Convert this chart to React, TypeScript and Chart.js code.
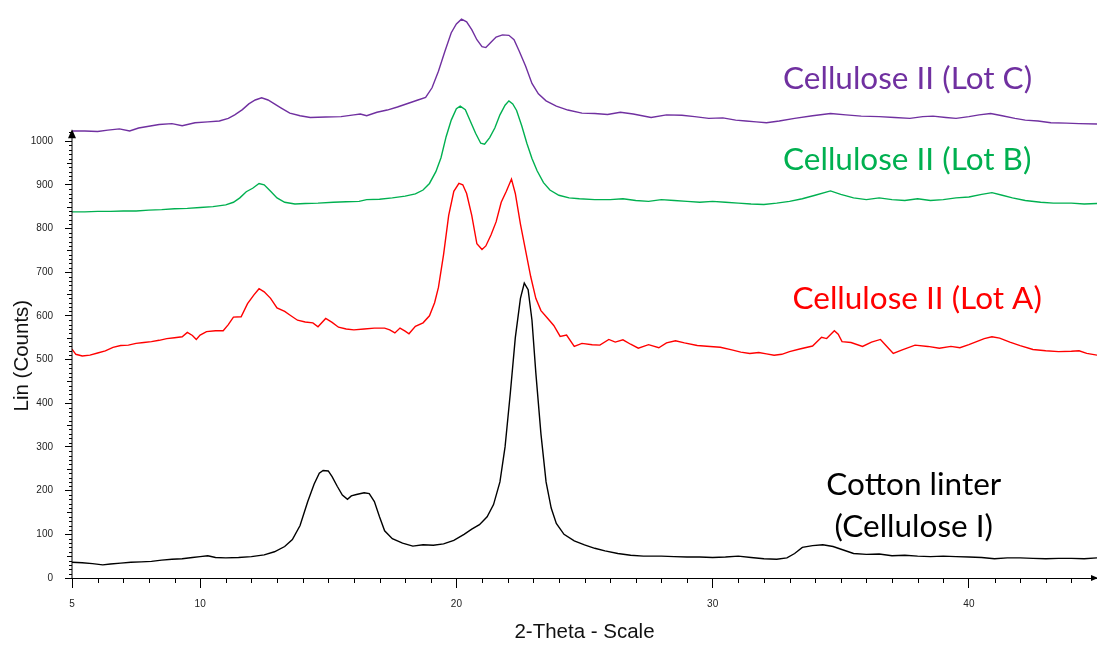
import { useEffect, useRef } from "react";
import { Chart, registerables } from "chart.js";

Chart.register(...registerables);

// ---------- axes ----------
const thetaMin = 5;
const thetaMax = 45;
const countMin = 0;
const countMax = 1300;
const yAxisTopValue = 1027;
const xTickValues = [5, 10, 20, 30, 40];
const yTickValues = [0, 100, 200, 300, 400, 500, 600, 700, 800, 900, 1000];
const xTitle = "2-Theta - Scale";
const yTitle = "Lin (Counts)";

// ---------- series (2-theta, counts) ----------
const cottonLinter: [number, number][] = [
  [5.0, 36], [5.4, 35], [5.8, 33], [6.2, 30], [6.5, 32], [6.9, 34], [7.3, 36], [7.7, 37], [8.1, 38], [8.5, 41],
  [8.9, 43], [9.3, 44], [9.7, 47], [10.0, 49], [10.3, 51], [10.6, 47], [11.0, 46], [11.5, 47], [12.0, 49], [12.5, 53],
  [12.9, 60], [13.3, 72], [13.6, 88], [13.9, 120], [14.2, 175], [14.45, 215], [14.65, 240], [14.8, 246], [15.0, 245], [15.15, 232],
  [15.35, 210], [15.55, 190], [15.75, 180], [15.9, 188], [16.1, 191], [16.4, 195], [16.6, 193], [16.8, 175], [17.0, 140], [17.2, 108],
  [17.5, 90], [17.9, 80], [18.3, 73], [18.7, 76], [19.1, 75], [19.5, 78], [19.9, 86], [20.3, 100], [20.6, 112], [20.9, 122],
  [21.2, 140], [21.45, 168], [21.7, 220], [21.9, 300], [22.1, 420], [22.3, 550], [22.5, 640], [22.65, 675], [22.8, 660], [22.95, 590],
  [23.1, 470], [23.3, 330], [23.5, 220], [23.7, 160], [23.9, 125], [24.2, 100], [24.6, 85], [25.0, 76], [25.4, 68], [25.8, 62],
  [26.3, 56], [26.8, 52], [27.3, 50], [28.0, 50], [28.5, 49], [29.0, 48], [29.5, 48], [30.0, 47], [30.5, 48], [31.0, 50],
  [31.5, 47], [32.0, 44], [32.5, 43], [32.9, 46], [33.2, 56], [33.5, 70], [33.9, 74], [34.3, 76], [34.7, 72], [35.1, 64],
  [35.5, 56], [36.0, 54], [36.5, 55], [37.0, 51], [37.5, 52], [38.0, 50], [38.5, 49], [39.0, 50], [39.5, 49], [40.0, 48],
  [40.5, 47], [41.0, 44], [41.5, 46], [42.0, 46], [42.5, 45], [43.0, 44], [43.5, 45], [44.0, 45], [44.5, 44], [45.0, 46],
];

const celluloseLotA: [number, number][] = [
  [5.0, 524], [5.15, 512], [5.4, 508], [5.7, 510], [6.0, 515], [6.3, 520], [6.6, 528], [6.9, 532], [7.2, 533], [7.5, 537],
  [7.8, 539], [8.1, 541], [8.4, 544], [8.7, 548], [9.0, 550], [9.3, 552], [9.5, 562], [9.7, 555], [9.85, 546], [10.0, 556],
  [10.25, 564], [10.6, 566], [10.9, 566], [11.1, 580], [11.3, 597], [11.6, 598], [11.85, 628], [12.1, 648], [12.3, 662], [12.5, 655],
  [12.75, 640], [13.0, 618], [13.3, 610], [13.5, 602], [13.8, 590], [14.1, 586], [14.4, 584], [14.6, 575], [14.9, 594], [15.15, 585],
  [15.4, 574], [15.7, 570], [16.0, 568], [16.4, 570], [16.8, 572], [17.2, 572], [17.4, 568], [17.6, 561], [17.8, 572], [18.0, 565],
  [18.15, 559], [18.4, 576], [18.7, 584], [18.95, 600], [19.15, 630], [19.3, 665], [19.5, 740], [19.7, 830], [19.9, 885], [20.1, 903],
  [20.25, 900], [20.4, 880], [20.6, 830], [20.8, 765], [21.0, 752], [21.15, 760], [21.35, 785], [21.55, 815], [21.75, 860], [21.95, 885],
  [22.15, 913], [22.3, 880], [22.5, 810], [22.7, 750], [22.9, 690], [23.1, 640], [23.3, 612], [23.55, 595], [23.8, 578], [24.05, 553],
  [24.3, 556], [24.6, 530], [24.9, 537], [25.3, 534], [25.6, 533], [25.95, 546], [26.2, 540], [26.5, 545], [26.8, 535], [27.1, 526],
  [27.5, 534], [27.9, 527], [28.2, 538], [28.55, 543], [28.9, 538], [29.4, 532], [29.9, 530], [30.3, 528], [30.75, 522], [31.1, 517],
  [31.45, 514], [31.8, 516], [32.1, 513], [32.4, 510], [32.7, 512], [33.0, 518], [33.4, 524], [33.9, 531], [34.25, 551], [34.45, 548],
  [34.75, 566], [34.9, 558], [35.05, 541], [35.4, 539], [35.85, 530], [36.2, 540], [36.55, 546], [36.8, 530], [37.05, 514], [37.4, 522],
  [37.9, 533], [38.4, 530], [38.85, 526], [39.3, 530], [39.65, 527], [40.0, 534], [40.3, 541], [40.6, 548], [40.9, 552], [41.2, 549],
  [41.6, 540], [42.0, 532], [42.5, 523], [43.0, 520], [43.5, 518], [44.0, 519], [44.3, 520], [44.6, 514], [45.0, 510],
];

const celluloseLotB: [number, number][] = [
  [5.0, 838], [5.5, 838], [6.0, 839], [6.5, 839], [7.0, 840], [7.5, 840], [8.0, 842], [8.5, 843], [9.0, 845], [9.5, 846],
  [10.0, 848], [10.5, 850], [11.0, 854], [11.3, 860], [11.55, 870], [11.8, 884], [12.05, 892], [12.3, 903], [12.5, 900], [12.75, 885],
  [13.0, 870], [13.3, 860], [13.7, 856], [14.1, 857], [14.6, 858], [15.2, 860], [15.7, 861], [16.2, 862], [16.5, 866], [17.0, 867],
  [17.5, 870], [18.0, 874], [18.4, 879], [18.7, 888], [18.95, 903], [19.2, 930], [19.4, 962], [19.6, 1010], [19.8, 1048], [20.0, 1074],
  [20.15, 1080], [20.35, 1072], [20.55, 1045], [20.75, 1018], [20.95, 995], [21.1, 993], [21.3, 1008], [21.5, 1030], [21.7, 1060], [21.9, 1082],
  [22.05, 1092], [22.2, 1085], [22.35, 1070], [22.55, 1035], [22.75, 995], [22.95, 960], [23.15, 932], [23.4, 905], [23.65, 888], [24.0, 876],
  [24.4, 870], [24.8, 868], [25.4, 866], [26.0, 866], [26.5, 868], [27.0, 864], [27.5, 862], [28.0, 866], [28.5, 864], [29.0, 862],
  [29.5, 860], [30.0, 862], [30.5, 860], [31.0, 858], [31.5, 856], [32.0, 855], [32.5, 858], [33.0, 862], [33.5, 868], [34.0, 876],
  [34.6, 886], [35.0, 878], [35.5, 870], [36.0, 866], [36.5, 870], [37.0, 866], [37.5, 864], [38.0, 868], [38.5, 864], [39.0, 866],
  [39.5, 870], [40.0, 872], [40.5, 878], [40.9, 882], [41.3, 876], [41.7, 870], [42.2, 864], [42.8, 860], [43.3, 858], [44.0, 858],
  [44.5, 856], [45.0, 857],
];

const celluloseLotC: [number, number][] = [
  [5.0, 1023], [5.5, 1023], [6.0, 1022], [6.4, 1025], [6.85, 1028], [7.25, 1023], [7.6, 1030], [8.0, 1034], [8.4, 1038], [8.9, 1040],
  [9.3, 1035], [9.8, 1042], [10.3, 1044], [10.75, 1046], [11.1, 1052], [11.35, 1060], [11.65, 1072], [11.9, 1085], [12.15, 1094], [12.4, 1099],
  [12.65, 1094], [12.9, 1085], [13.15, 1076], [13.5, 1064], [13.9, 1058], [14.3, 1054], [14.9, 1055], [15.5, 1056], [16.0, 1060], [16.25, 1062],
  [16.5, 1058], [16.9, 1066], [17.3, 1071], [17.7, 1078], [18.1, 1086], [18.5, 1094], [18.8, 1100], [19.05, 1122], [19.3, 1160], [19.55, 1205],
  [19.8, 1248], [20.0, 1268], [20.2, 1279], [20.4, 1273], [20.6, 1255], [20.8, 1232], [21.0, 1216], [21.15, 1214], [21.35, 1226], [21.55, 1238],
  [21.8, 1243], [22.05, 1242], [22.25, 1232], [22.45, 1206], [22.7, 1172], [22.95, 1132], [23.2, 1108], [23.5, 1092], [23.9, 1080], [24.35, 1071],
  [24.9, 1064], [25.4, 1063], [25.9, 1061], [26.4, 1066], [26.9, 1062], [27.6, 1054], [28.2, 1060], [28.8, 1059], [29.3, 1056], [29.85, 1052],
  [30.4, 1053], [30.9, 1048], [31.3, 1046], [31.7, 1044], [32.1, 1042], [32.6, 1046], [33.2, 1052], [33.9, 1058], [34.6, 1063], [35.2, 1060],
  [35.8, 1057], [36.5, 1056], [37.1, 1054], [37.7, 1052], [38.2, 1056], [38.6, 1057], [39.1, 1054], [39.5, 1052], [40.0, 1056], [40.4, 1060],
  [40.85, 1063], [41.3, 1058], [41.8, 1052], [42.2, 1048], [42.7, 1046], [43.2, 1042], [43.8, 1041], [44.3, 1040], [45.0, 1039],
];

const seriesNames = ["Cotton linter (Cellulose I)", "Cellulose II (Lot A)", "Cellulose II (Lot B)", "Cellulose II (Lot C)"];
const seriesData = [cottonLinter, celluloseLotA, celluloseLotB, celluloseLotC];
const seriesColors = ["#000000", "#FF0000", "#00B050", "#7030A0"];

// ---------- in-plot labels ----------
const labelTexts = ["Cellulose II (Lot C)", "Cellulose II (Lot B)", "Cellulose II (Lot A)", "Cotton linter", "(Cellulose I)"];
const labelTheta = [32.75, 32.75, 33.12, 37.85, 37.85];
const labelCounts = [1120, 934, 615, 190, 94];
const labelColors = ["#7030A0", "#00B050", "#FF0000", "#000000", "#000000"];
const labelAligns: CanvasTextAlign[] = ["left", "left", "left", "center", "center"];

const axisFont = "Liberation Sans, Arial, sans-serif";
const labelFont = "Lato, 'Open Sans', sans-serif";

const decorPlugin = {
  id: "decor",
  afterDraw(chart: any) {
    const { ctx } = chart;
    const x = chart.scales.x;
    const y = chart.scales.y;
    const x0 = x.getPixelForValue(thetaMin);
    const yb = y.getPixelForValue(countMin);
    const yt = y.getPixelForValue(yAxisTopValue);
    ctx.save();
    ctx.strokeStyle = "#000";
    ctx.fillStyle = "#000";
    ctx.lineWidth = 1;
    // y axis line + arrow
    ctx.beginPath();
    ctx.moveTo(x0, yb);
    ctx.lineTo(x0, yt + 6);
    ctx.stroke();
    ctx.beginPath();
    ctx.moveTo(x0, yt);
    ctx.lineTo(x0 - 4, yt + 9);
    ctx.lineTo(x0 + 4, yt + 9);
    ctx.closePath();
    ctx.fill();
    // y minor ticks
    for (let v = countMin + 10; v <= yAxisTopValue - 5; v += 10) {
      if (yTickValues.includes(v)) continue;
      const len = v % 50 === 0 ? 5 : 3;
      const py = Math.round(y.getPixelForValue(v)) + 0.5;
      ctx.beginPath();
      ctx.moveTo(x0 - len, py);
      ctx.lineTo(x0, py);
      ctx.stroke();
    }
    // x minor ticks
    for (let t = thetaMin + 1; t < thetaMax; t += 1) {
      if (xTickValues.includes(t)) continue;
      const px = Math.round(x.getPixelForValue(t)) + 0.5;
      ctx.beginPath();
      ctx.moveTo(px, yb);
      ctx.lineTo(px, yb + 5);
      ctx.stroke();
    }
    // x axis arrow
    const xr = x.getPixelForValue(thetaMax);
    ctx.beginPath();
    ctx.moveTo(xr + 1, yb);
    ctx.lineTo(xr - 6, yb - 3);
    ctx.lineTo(xr - 6, yb + 3);
    ctx.closePath();
    ctx.fill();
    // y title
    ctx.save();
    ctx.translate(28, (yb + yt) / 2 + 2);
    ctx.rotate(-Math.PI / 2);
    ctx.font = `20.5px ${axisFont}`;
    ctx.fillStyle = "#111";
    ctx.textAlign = "center";
    ctx.textBaseline = "alphabetic";
    ctx.fillText(yTitle, 0, 0);
    ctx.restore();
    // in-plot labels
    ctx.font = `31.5px ${labelFont}`;
    ctx.textBaseline = "alphabetic";
    labelTexts.forEach((txt, i) => {
      ctx.fillStyle = labelColors[i];
      ctx.textAlign = labelAligns[i];
      ctx.fillText(txt, x.getPixelForValue(labelTheta[i]), y.getPixelForValue(labelCounts[i]));
    });
    ctx.restore();
  },
};

export default function App() {
  const ref = useRef<HTMLCanvasElement | null>(null);
  useEffect(() => {
    if (!ref.current) return;
    const chart = new Chart(ref.current, {
      type: "line",
      data: {
        datasets: seriesData.map((d, i) => ({
          label: seriesNames[i],
          data: d.map(([t, c]) => ({ x: t, y: c })),
          borderColor: seriesColors[i],
          backgroundColor: seriesColors[i],
          borderWidth: 1.4,
          pointRadius: 0,
          tension: 0,
          fill: false,
        })),
      },
      options: {
        animation: false,
        responsive: false,
        devicePixelRatio: 1,
        layout: { padding: { top: 10, right: 0, left: 0, bottom: 0 } },
        plugins: { legend: { display: false }, tooltip: { enabled: false }, title: { display: false } },
        scales: {
          x: {
            type: "linear",
            min: thetaMin,
            max: thetaMax,
            afterBuildTicks: (s: any) => {
              s.ticks = xTickValues.map((v) => ({ value: v }));
            },
            afterFit: (s: any) => {
              s.height = 68;
              s.paddingLeft = 0;
              s.paddingRight = 0;
            },
            ticks: {
              autoSkip: false,
              maxRotation: 0,
              padding: 10,
              color: "#222",
              font: { family: axisFont, size: 10 },
              callback: (v: any) => String(v),
            },
            grid: { drawOnChartArea: false, drawTicks: true, tickLength: 10, color: "#000", lineWidth: 1 },
            border: { display: true, color: "#000", width: 1 },
            title: {
              display: true,
              text: xTitle,
              color: "#111",
              font: { family: axisFont, size: 20.5 },
              padding: { top: 0, bottom: 1 },
            },
          },
          y: {
            type: "linear",
            min: countMin,
            max: countMax,
            afterBuildTicks: (s: any) => {
              s.ticks = yTickValues.map((v) => ({ value: v }));
            },
            afterFit: (s: any) => {
              s.width = 72;
              s.paddingTop = 0;
              s.paddingBottom = 0;
            },
            ticks: {
              autoSkip: false,
              padding: 12,
              color: "#222",
              font: { family: axisFont, size: 10 },
              callback: (v: any) => String(v),
            },
            grid: { drawOnChartArea: false, drawTicks: true, tickLength: 7, color: "#000", lineWidth: 1 },
            border: { display: false },
          },
        },
      },
      plugins: [decorPlugin],
    });
    return () => chart.destroy();
  }, []);
  return (
    <div style={{ position: "fixed", left: 0, top: 0, width: 1097, height: 646, background: "#fff" }}>
      <canvas ref={ref} width={1097} height={646} style={{ display: "block" }} />
    </div>
  );
}
